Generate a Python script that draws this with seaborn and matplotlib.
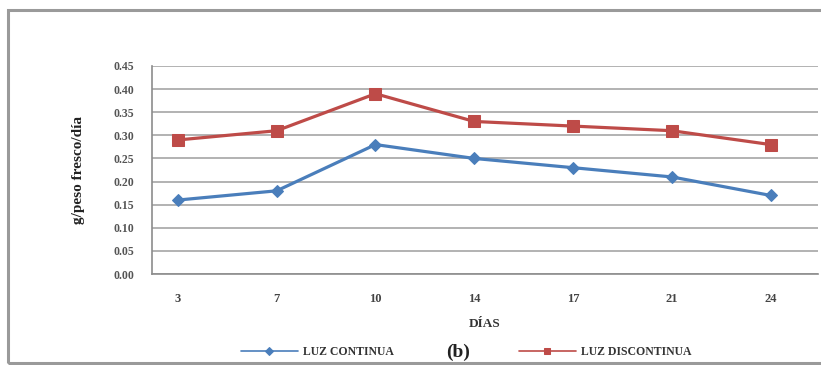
import numpy as np
import pandas as pd
import matplotlib
matplotlib.use('Agg')
import matplotlib.pyplot as plt
import matplotlib.patches as patches
import seaborn as sns

# data
dias = ['3', '7', '10', '14', '17', '21', '24']
luz_continua = [0.16, 0.18, 0.28, 0.25, 0.23, 0.21, 0.17]
luz_discontinua = [0.29, 0.31, 0.39, 0.33, 0.32, 0.31, 0.28]
series_names = ['LUZ CONTINUA', 'LUZ DISCONTINUA']
y_ticks = [0.00, 0.05, 0.10, 0.15, 0.20, 0.25, 0.30, 0.35, 0.40, 0.45]

df = pd.DataFrame({
    'dia': dias * 2,
    'valor': luz_continua + luz_discontinua,
    'serie': [series_names[0]] * len(dias) + [series_names[1]] * len(dias),
})

sns.set_style('white')
plt.rcParams['font.family'] = ['Liberation Serif', 'DejaVu Serif']

fig = plt.figure(figsize=(8.21, 3.65), dpi=100)
ax = fig.add_axes([0.1851, 0.2493, 0.8112, 0.5699])

palette = {'LUZ CONTINUA': '#4a7ebb', 'LUZ DISCONTINUA': '#be4b48'}
markers = {'LUZ CONTINUA': 'D', 'LUZ DISCONTINUA': 's'}
sizes = {'LUZ CONTINUA': 6.5, 'LUZ DISCONTINUA': 8}

for name in series_names:
    sub = df[df['serie'] == name]
    sns.lineplot(data=sub, x='dia', y='valor', color=palette[name], marker=markers[name],
                 markersize=sizes[name], markeredgecolor=palette[name], linewidth=2.3,
                 sort=False, label=name, ax=ax, zorder=3)

ax.set_ylim(0, 0.45)
ax.set_xlim(-0.263, 6.48)
ax.set_yticks(y_ticks)
ax.set_yticklabels(['%.2f' % v for v in y_ticks])
ax.yaxis.grid(True, color='#a6a6a6', linewidth=1.2)
ax.xaxis.grid(False)
for side in ['top', 'right']:
    ax.spines[side].set_visible(False)
for side in ['left', 'bottom']:
    ax.spines[side].set_color('#8c8c8c')
    ax.spines[side].set_linewidth(1.2)
ax.tick_params(axis='y', length=0, pad=13, labelsize=8.5, labelcolor='#555555')
ax.tick_params(axis='x', length=0, pad=14, labelsize=9, labelcolor='#444444')
for lbl in ax.get_xticklabels() + ax.get_yticklabels():
    lbl.set_fontweight('bold')

ax.set_xlabel('DÍAS', fontsize=9.5, fontweight='bold', color='#333333', labelpad=9)
ax.set_ylabel('g/peso fresco/día', fontsize=11, fontweight='bold', color='#222222', labelpad=20)

ax.legend_.remove()
handles, labels = ax.get_legend_handles_labels()
leg = fig.legend(handles, labels, loc='center', bbox_to_anchor=(0.568, 0.035), ncol=2,
                 frameon=False, handlelength=4.8, columnspacing=10.6, handletextpad=0.45,
                 prop={'family': 'Liberation Serif', 'weight': 'bold', 'size': 8.5})
for line in leg.get_lines():
    line.set_linewidth(1.2)
    line.set_markersize(4)
for t in leg.get_texts():
    t.set_color('#333333')

fig.text(0.558, 0.035, '(b)', ha='center', va='center', fontsize=14, fontweight='bold', color='#222222')

# outer border around the whole chart
fig.patches.append(patches.Rectangle((8 / 821, 2 / 365), 1.2, 353 / 365, transform=fig.transFigure,
                                     fill=False, edgecolor='#9a9a9a', linewidth=2.2))

fig.savefig('out.png', dpi=100)
